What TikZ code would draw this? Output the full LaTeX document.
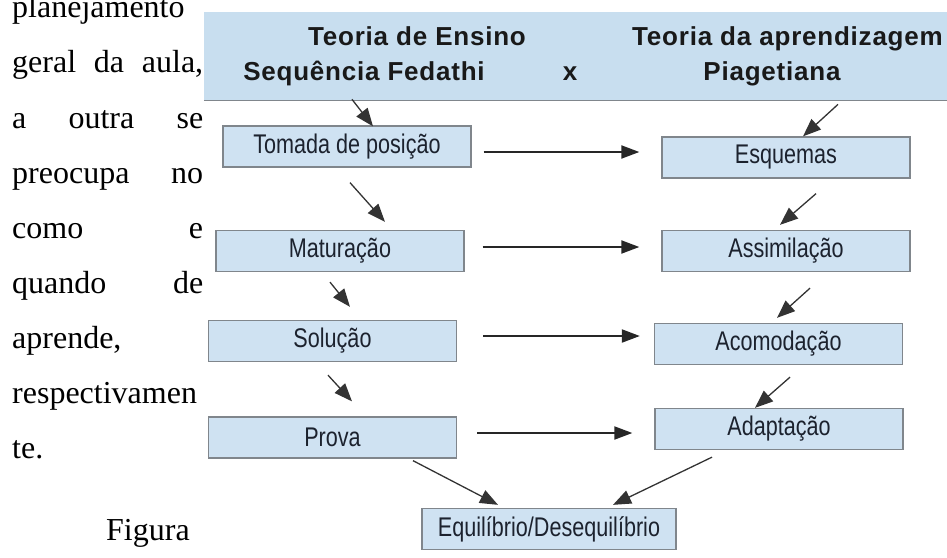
\documentclass[tikz,border=0pt]{standalone}
\usepackage{fontspec}
\setmainfont{Liberation Serif}
\newfontfamily\narrowsans[FakeStretch=0.8]{Liberation Sans}
\newfontfamily\arialwide[LetterSpace=3]{Liberation Sans}
\usetikzlibrary{arrows.meta}
\definecolor{boxblue}{RGB}{207,226,242}
\definecolor{headblue}{RGB}{200,222,239}
\definecolor{boxline}{RGB}{128,134,140}
\definecolor{boxtext}{RGB}{28,34,46}

\begin{document}
\begin{tikzpicture}[x=1pt,y=-1pt,
    stagebox/.style={draw=boxline,line width=1.3pt,fill=boxblue,minimum width=248pt,minimum height=41pt,
      inner sep=0pt,font=\narrowsans\fontsize{27}{27}\selectfont,text=boxtext},
    headtext/.style={anchor=base,font=\arialwide\bfseries\fontsize{26}{26}\selectfont,text=black!90},
    bodyline/.style={anchor=base west,inner sep=0pt,font=\fontsize{32}{32}\selectfont},
    harrow/.style={draw=black!85,line width=2pt,-{Triangle[length=18pt,width=13pt]}},
    darrow/.style={draw=black!80,line width=1.3pt,-{Triangle[length=18pt,width=14pt]}}]
  \useasboundingbox (0,0) rectangle (947,557);
  % texto da pagina
  \node[bodyline] (l1) at (12,17) {planejamento};
  \node[bodyline] (l2) at (12,72) {\hbox to 191pt{geral\hfill da\hfill aula,}};
  \node[bodyline] (l3) at (12,128) {\hbox to 191pt{a\hfill outra\hfill se}};
  \node[bodyline] (l4) at (12,183) {\hbox to 191pt{preocupa\hfill no}};
  \node[bodyline] (l5) at (12,238) {\hbox to 191pt{como\hfill e}};
  \node[bodyline] (l6) at (12,293) {\hbox to 191pt{quando\hfill de}};
  \node[bodyline] (l7) at (12,348) {aprende,};
  \node[bodyline] (l8) at (12,403) {respectivamen};
  \node[bodyline] (l9) at (12,458) {te.};
  \node[bodyline] (fig) at (106,540) {Figura};
  % cabecalho
  \node[fill=headblue,minimum width=743pt,minimum height=88pt,inner sep=0pt] (header) at (575.5,56) {};
  \draw[boxline,line width=1.3pt] (header.south west) -- (header.south east);
  \node[headtext] (ensino) at (417,45) {Teoria de Ensino};
  \node[headtext] (fedathi) at (364,80) {Sequência Fedathi};
  \node[headtext] (versus) at (570,80) {x};
  \node[headtext] (aprend) at (787.5,45) {Teoria da aprendizagem};
  \node[headtext] (piaget) at (772,80) {Piagetiana};
  % caixas
  \node[stagebox] (tomada) at (347,146.5) {Tomada de posição};
  \node[stagebox] (matur) at (340,251) {Maturação};
  \node[stagebox] (solucao) at (332.5,341) {Solução};
  \node[stagebox] (prova) at (332.5,437.5) {Prova};
  \node[stagebox] (esquemas) at (786,157.5) {Esquemas};
  \node[stagebox] (assim) at (786,251) {Assimilação};
  \node[stagebox] (acomod) at (778.5,344) {Acomodação};
  \node[stagebox] (adapt) at (779,429) {Adaptação};
  \node[stagebox,minimum width=254pt] (equil) at (549,529) {Equilíbrio/Desequilíbrio};
  % setas horizontais
  \draw[harrow] ([shift={(12,5.5)}]tomada.east) -- ([shift={(-22,-5.5)}]esquemas.west);
  \draw[harrow] ([shift={(18,-4)}]matur.east) -- ([shift={(-22,-4)}]assim.west);
  \draw[harrow] ([shift={(26,-5)}]solucao.east) -- ([shift={(-14,-8)}]acomod.west);
  \draw[harrow] ([shift={(20,-4.5)}]prova.east) -- ([shift={(-22,4)}]adapt.west);
  % setas diagonais
  \draw[darrow] ([shift={(5,-26)}]tomada.north) -- ([shift={(26,1)}]tomada.north);
  \draw[darrow] ([shift={(3,15)}]tomada.south) -- ([shift={(45,-8)}]matur.north);
  \draw[darrow] ([shift={(-10,10)}]matur.south) -- ([shift={(17.5,-13)}]solucao.north);
  \draw[darrow] ([shift={(-4.5,13)}]solucao.south) -- ([shift={(19.5,-15)}]prova.north);
  \draw[darrow] ([shift={(52,-32)}]esquemas.north) -- ([shift={(17,0)}]esquemas.north);
  \draw[darrow] ([shift={(30,15)}]esquemas.south) -- ([shift={(-6,-5)}]assim.north);
  \draw[darrow] ([shift={(24,16)}]assim.south) -- ([shift={(-1.5,-5)}]acomod.north);
  \draw[darrow] ([shift={(11.5,12)}]acomod.south) -- ([shift={(-24,0)}]adapt.north);
  \draw[darrow] ([shift={(80.5,2)}]prova.south) -- ([shift={(-51,-3)}]equil.north);
  \draw[darrow] ([shift={(-67,7)}]adapt.south) -- ([shift={(64,-3)}]equil.north);
\end{tikzpicture}
\end{document}
